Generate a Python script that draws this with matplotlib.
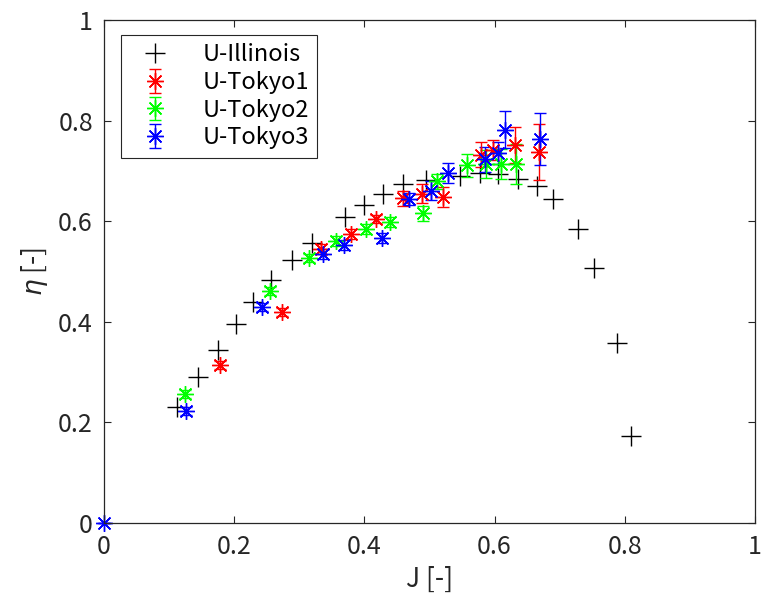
import numpy as np
import matplotlib
matplotlib.use("Agg")
from matplotlib import pyplot as plt

plt.rcParams['font.family'] = ['Noto Sans CJK JP', 'DejaVu Sans']

# U-Illinois efficiency curve
illinois_J = [0.112, 0.144, 0.175, 0.203, 0.229, 0.257, 0.289, 0.319, 0.371, 0.399,
              0.429, 0.460, 0.495, 0.547, 0.577, 0.605, 0.636, 0.666, 0.690, 0.728,
              0.753, 0.788, 0.809]
illinois_eta = [0.231, 0.291, 0.344, 0.395, 0.440, 0.483, 0.523, 0.556, 0.609, 0.632,
                0.654, 0.674, 0.682, 0.689, 0.695, 0.693, 0.683, 0.670, 0.645, 0.584,
                0.506, 0.358, 0.173]

# U-Tokyo runs with standard deviation
tokyo1_J = [0.179, 0.273, 0.333, 0.380, 0.418, 0.459, 0.488, 0.521, 0.580, 0.597, 0.632, 0.668]
tokyo1_eta = [0.314, 0.419, 0.545, 0.574, 0.605, 0.646, 0.655, 0.648, 0.732, 0.742, 0.751, 0.738]
tokyo1_err = [0.008, 0.008, 0.010, 0.010, 0.008, 0.015, 0.019, 0.020, 0.025, 0.020, 0.036, 0.056]

tokyo2_J = [0.124, 0.255, 0.315, 0.357, 0.402, 0.440, 0.490, 0.511, 0.557, 0.587, 0.610, 0.633]
tokyo2_eta = [0.256, 0.461, 0.526, 0.561, 0.584, 0.598, 0.616, 0.679, 0.711, 0.714, 0.714, 0.714]
tokyo2_err = [0.008, 0.008, 0.008, 0.010, 0.010, 0.010, 0.015, 0.015, 0.023, 0.028, 0.030, 0.040]

tokyo3_J = [0.0, 0.126, 0.243, 0.336, 0.368, 0.427, 0.469, 0.502, 0.528, 0.585, 0.605, 0.616, 0.670]
tokyo3_eta = [0.0, 0.222, 0.429, 0.534, 0.553, 0.566, 0.645, 0.661, 0.696, 0.723, 0.735, 0.782, 0.763]
tokyo3_err = [0.0, 0.008, 0.008, 0.010, 0.010, 0.010, 0.012, 0.018, 0.020, 0.025, 0.022, 0.037, 0.052]

fig = plt.figure(figsize=(7.63, 6.10), dpi=100)
ax = fig.add_axes([0.1363, 0.1426, 0.8530, 0.8246])

ax.plot(illinois_J, illinois_eta, linestyle='none', marker='+', markersize=14,
        markeredgewidth=1.0, color='k', label='U-Illinois')

star = (8, 2, 0)
for J, eta, err, col, name in [(tokyo1_J, tokyo1_eta, tokyo1_err, (1, 0, 0), 'U-Tokyo1'),
                               (tokyo2_J, tokyo2_eta, tokyo2_err, (0, 1, 0), 'U-Tokyo2'),
                               (tokyo3_J, tokyo3_eta, tokyo3_err, (0, 0, 1), 'U-Tokyo3')]:
    eb = ax.errorbar(J, eta, yerr=err, linestyle='none', marker=star, markersize=12,
                     markeredgewidth=1.0, color=col, ecolor=col, elinewidth=1.0,
                     capsize=4, capthick=1.0, label=name)
    for artist in eb.lines[0:1] + tuple(eb.lines[1]) + tuple(eb.lines[2]):
        artist.set_clip_on(False)

ax.set_xlim(0, 1)
ax.set_ylim(0, 1)
ax.set_xticks([0, 0.2, 0.4, 0.6, 0.8, 1])
ax.set_yticks([0, 0.2, 0.4, 0.6, 0.8, 1])
ax.set_xticklabels(['0', '0.2', '0.4', '0.6', '0.8', '1'])
ax.set_yticklabels(['0', '0.2', '0.4', '0.6', '0.8', '1'])
ax.tick_params(direction='in', length=5, width=0.8, labelsize=18, colors='#262626',
               top=True, right=True, pad=8)
for s in ax.spines.values():
    s.set_color('#262626')
    s.set_linewidth(0.9)

ax.set_xlabel('J [-]', fontsize=19, color='#262626', labelpad=4)
ax.set_ylabel(r'$\eta$ [-]', fontsize=19, color='#262626', labelpad=6)

leg = ax.legend(loc='upper left', bbox_to_anchor=(121 / 763, 1 - 35 / 610),
                bbox_transform=fig.transFigure, borderaxespad=0, fontsize=17,
                fancybox=False, edgecolor='#262626', framealpha=1,
                handlelength=2.2, labelspacing=0.2, handletextpad=0.9, borderpad=0.35)
leg.get_frame().set_linewidth(0.8)

fig.savefig('out.png', dpi=100)
